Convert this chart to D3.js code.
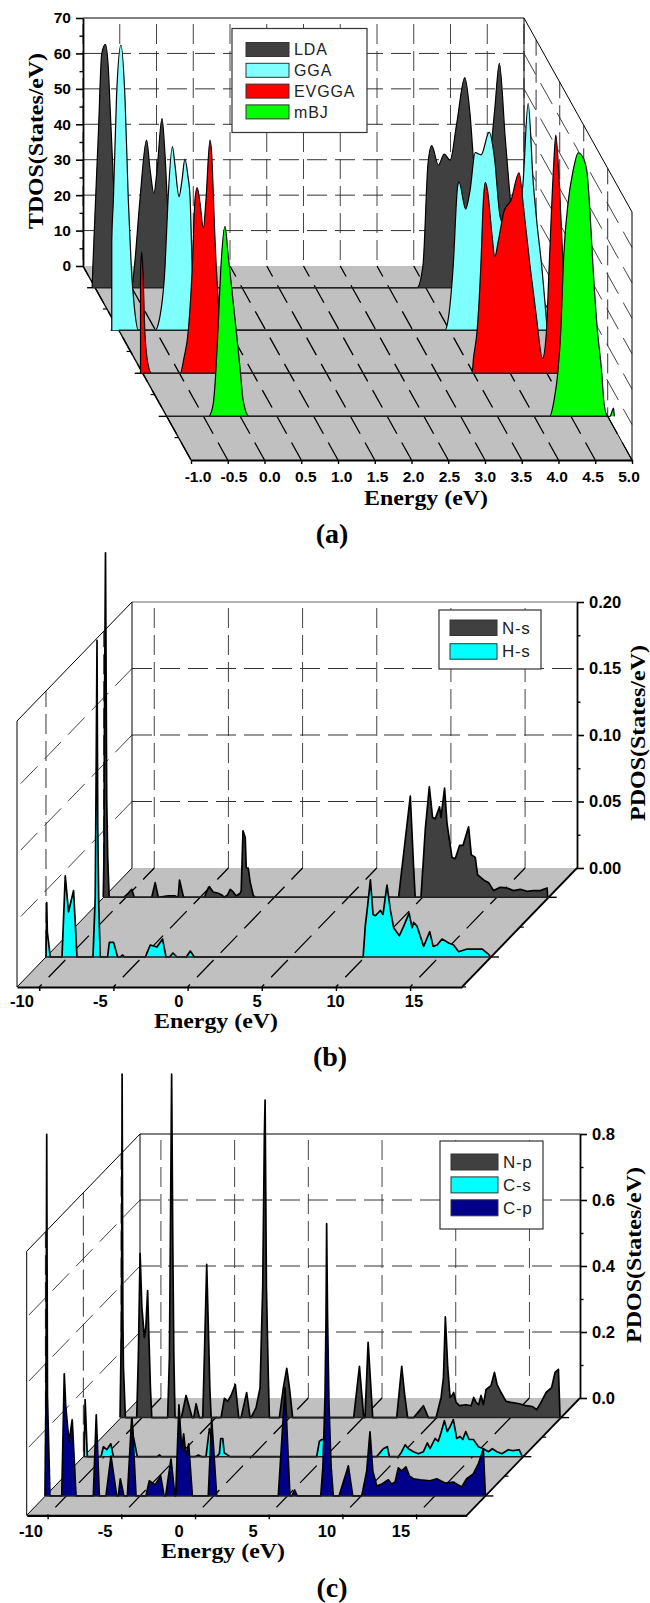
<!DOCTYPE html>
<html>
<head>
<meta charset="utf-8">
<script src="https://cdn.jsdelivr.net/npm/d3@7"></script>
<style>
  html, body { margin: 0; padding: 0; background: #fff; }
  svg { display: block; }
</style>
</head>
<body>
<svg id="fig" width="650" height="1603"></svg>
<script>
// panel (a) TDOS, energy in eV, values in States/eV
var ldaE = [-1.04,-1.03,-0.955,-0.91,-0.86,-0.82,-0.80,-0.75,-0.71,-0.67,-0.50,-0.465,-0.39,-0.30,-0.25,-0.20,-0.16,-0.09,-0.05,-0.01,0.03,0.075,3.38,3.46,3.53,3.58,3.67,3.75,3.83,3.92,4.03,4.10,4.16,4.27,4.40,4.44,4.50,4.58,4.66,4.73,4.81];
var ldaV = [0,6.1,43.7,66,68.7,62,53,29.5,11,0,0,6,24.8,41.7,33,26.6,32.5,47.8,38,21,5.6,0,0,6.1,35.2,40.1,34.6,37.7,36,46.3,59.3,49.3,34.2,28,42.3,51,63.3,42.3,22.6,10,0];
var ggaE = [-1.095,-1.095,-1.073,-1.03,-0.97,-0.914,-0.87,-0.83,-0.79,-0.733,-0.506,-0.45,-0.37,-0.33,-0.27,-0.235,-0.18,-0.14,-0.10,-0.06,-0.03,0,0.065,0.12,3.44,3.49,3.55,3.61,3.63,3.72,3.78,3.85,3.93,4.04,4.11,4.19,4.32,4.43,4.50,4.57,4.64,4.69,4.755,4.83];
var ggaV = [0,25,36.8,66,80.5,65,36.8,18,7,0,0,2.8,18,36.7,51.8,46.6,37.7,42.3,48.3,43.7,37.7,18,4.2,0,0,4.2,18,40.5,41.8,34.2,39.5,50.1,49.5,55.9,49,32,26.8,31,41.5,64,41.5,30.2,18,0];
var evggaE = [-1.03,-1.03,-1.015,-1,-0.97,-0.93,-0.88,-0.49,-0.44,-0.38,-0.325,-0.29,-0.26,-0.22,-0.175,-0.14,-0.085,-0.065,-0.02,0,0.05,0.13,3.48,3.50,3.55,3.60,3.635,3.66,3.69,3.75,3.79,3.84,3.92,4.01,4.12,4.18,4.27,4.35,4.44,4.49,4.53,4.59,4.62,4.67,4.72,4.77,4.84];
var evggaV = [0,28,34.3,30,11.3,2.8,0,0,4.2,12,30.2,48.8,52.4,48,40.9,48.8,65.8,62.9,39.5,30.2,14,0,0,4.2,12.1,30.2,48.8,53.9,51.7,39.5,32.9,37.6,46,48.8,56.6,47,30.2,17,4.2,11,30.2,58.3,67.2,52.5,30.2,14,0];
var mbjE = [-0.42,-0.366,-0.333,-0.30,-0.265,-0.207,-0.162,-0.094,-0.05,0,0.04,0.12,4.21,4.27,4.32,4.365,4.395,4.46,4.53,4.60,4.67,4.72,4.76,4.80,4.855,4.92,4.95,5.0,5.03,5.08,5.09];
var mbjV = [0,3.7,12.1,25.4,41.2,53.6,45.2,31.9,23.4,13,4.5,0,0,4.5,12.1,25.4,42.3,60.1,69.4,74.4,72.8,68.6,57.3,42.3,25.4,12.1,3.7,0,0,2.3,0];

// panel (b) PDOS
var nsE = [-11.53,-11.48,-11.45,-11.38,-11.33,-11.30,-11.23,-11.16,-11.13,-10.15,-9.85,-9.61,-9.44,-8.26,-8.03,-7.82,-7.15,-6.68,-6.54,-6.48,-6.39,-6.14,-6.07,-4.72,-4.45,-4.39,-4.12,-3.78,-3.51,-3.37,-3.17,-2.97,-2.77,-2.57,-2.30,-2.23,-2.11,-1.96,-1.89,-1.76,-1.62,-1.42,-1.28,8.38,9.17,9.39,9.50,9.89,10.18,10.45,10.67,10.85,11.14,11.24,11.48,11.64,11.98,12.20,12.49,12.72,13.10,13.28,13.55,13.70,14.11,14.45,14.78,15.23,15.69,16.13,16.58,17.04,17.48,17.93,18.39,18.43];
var nsV = [0,.030,.135,.259,.150,.075,.030,.008,0,0,.003,.006,0,0,.011,0,.001,.001,0,0,.013,.001,0,0,.007,.008,.004,.003,.0015,0,.0015,.006,.004,.001,.003,.005,.050,.045,.022,.022,.011,.0015,0,0,.076,.023,0,0,.051,.083,.060,.059,.068,.060,.082,.056,.030,.029,.039,.039,.053,.032,.030,.017,.013,.011,.005,.0075,.007,.005,.006,.0045,.005,.005,.007,0];
var hsE = [-11.5,-11.45,-11.41,-11.21,-10.42,-10.2,-9.98,-9.64,-9.41,-8.33,-8.18,-8.11,-8.06,-8.01,-7.94,-7.84,-7.35,-7.23,-6.94,-6.67,-6.49,-6.33,-6.2,-4.8,-4.47,-4.02,-3.64,-3.41,-3.17,-2.94,-2.67,-2.04,-1.77,-1.5,9.88,10.03,10.15,10.37,10.55,10.71,11.04,11.22,11.49,11.72,11.94,12.32,12.61,12.98,13.18,13.29,13.52,13.96,14.37,14.6,14.87,15.2,15.65,15.98,16.32,16.89,17.33,17.9,18.34,18.46];
var hsV = [0,.041,.019,0,0,.061,.034,.050,0,0,.045,.150,.238,.098,.038,0,0,.011,.011,0,0,.0015,0,0,.009,.0075,.0135,0,0,.003,0,0,.0045,0,0,.024,.035,.058,.032,.031,.035,.032,.054,.035,.022,.016,.023,.033,.022,.026,.023,.008,.019,.008,.009,.0135,.0105,.009,.004,.006,.006,.006,.002,0];

// panel (c) PDOS
var npE = [-11.49,-11.39,-11.35,-11.30,-11.26,-11.13,-10.36,-10.25,-10.13,-10.01,-9.84,-9.74,-9.62,-9.53,-9.43,-9.34,-8.26,-8.14,-8.08,-7.99,-7.91,-7.84,-7.76,-7.33,-7.01,-6.60,-6.49,-6.33,-6.11,-5.88,-5.77,-5.61,-5.50,-5.40,-5.31,-4.64,-4.41,-4.19,-3.96,-3.67,-3.44,-3.28,-2.90,-2.67,-2.60,-2.26,-1.99,-1.81,-1.70,-1.65,-1.56,-1.43,-1.36,-0.68,-0.41,-0.18,0,0.22,4.36,4.75,5.04,5.13,5.34,5.65,7.28,7.62,7.80,8.02,8.43,9.09,9.43,9.95,10.29,10.45,10.58,10.74,10.90,11.04,11.14,11.31,11.53,11.99,12.33,12.50,12.66,12.84,13,13.16,13.34,13.68,13.91,14.09,14.36,14.70,15.04,15.60,16.06,16.50,16.78,17.07,17.41,17.79,18.02,18.25,18.36];
var npV = [0,.303,1.041,.303,.152,0,0,.182,.498,.334,.243,.273,.385,.243,.091,0,0,.182,.516,1.041,.516,.182,0,0,.067,0,0,.042,0,0,.182,.464,.273,.091,0,0,.058,.049,.067,.100,0,0,.076,0,0,.030,.091,.395,.850,.962,.395,.121,0,0,.091,.149,.091,0,0,.155,0,0,.228,0,0,.155,.076,0,0,.036,0,0,.061,.121,.305,.152,.061,.067,.076,.046,.036,.039,.036,.061,.046,.039,.067,.039,.085,.097,.137,.100,.076,.049,.046,.042,.036,.033,.024,.046,.076,.091,.137,.146,0];
var csE = [-11.37,-11.30,-11.15,-10.22,-10.06,-9.83,-9.56,-9.38,-8.20,-8.12,-8.03,-7.76,-6.40,-6.26,-6.13,-3.84,-3.62,-3.39,-3.10,-2.87,-2.72,-2.65,-2.37,-2.19,-2.10,-1.96,-1.87,-1.47,4.41,4.59,4.75,5.04,5.25,8.48,8.93,9.20,9.34,9.95,10.18,10.41,10.63,10.97,11.31,11.65,11.92,12.10,12.44,12.66,12.85,13.07,13.27,13.46,13.68,13.91,14.14,14.32,14.52,14.75,15.04,15.38,15.72,16.06,16.33,16.63,16.97,17.41,17.75,18.14,18.36];
var csV = [0,.173,0,0,.030,.021,.039,0,0,.115,.061,0,0,.005,0,0,.005,0,0,.085,.061,0,0,.009,.055,.055,.012,0,0,.046,.052,.052,0,0,.024,.030,0,0,.015,.036,.024,.015,.009,.015,.042,.024,.055,.046,.073,.109,.076,.091,.112,.055,.061,.052,.076,.052,.052,.030,.024,.015,.024,.015,.009,.021,.018,.021,0];
var cpE = [-11.45,-11.38,-11.33,-11.28,-11.11,-10.31,-10.14,-10.04,-9.82,-9.60,-9.34,-8.17,-7.97,-7.76,-7.31,-6.97,-6.58,-6.47,-6.34,-6.09,-5.86,-5.57,-5.46,-5.27,-4.60,-4.37,-3.98,-3.60,-3.37,-3.26,-2.90,-2.63,-2.58,-2.36,-2.17,-2.04,-1.88,-1.70,-1.45,-0.37,-0.14,0.20,4.38,4.84,5.17,5.29,5.49,5.67,7.26,7.41,7.55,7.62,7.66,7.72,7.82,7.96,8.11,8.50,9.13,9.43,10.04,10.38,10.60,10.79,11.06,11.40,11.85,12.07,12.30,12.52,12.75,13.04,13.27,13.54,13.99,14.67,15.13,15.69,16.25,16.82,17.16,17.61,17.95,18.29,18.43];
var cpV = [0,.303,1.096,.303,0,0,.370,.273,.164,.231,0,0,.246,0,0,.121,0,0,.052,0,0,.234,.167,0,0,.046,.033,.061,0,0,.112,0,0,.276,.140,.188,.121,.158,0,0,.234,0,0,.328,0,0,.018,0,0,.091,.303,.546,.825,.546,.273,.091,0,0,.091,0,0,.076,.194,.076,.030,.036,.049,.036,.042,.085,.076,.088,.061,.052,.049,.046,.052,.039,.042,.027,.052,.067,.097,.143,0];

// tick values
var aXTicks = [-1,-0.5,0,0.5,1,1.5,2,2.5,3,3.5,4,4.5,5];
var aYTicks = [0,10,20,30,40,50,60,70];
var bXTicks = [-10,-5,0,5,10,15];
var bYTicks = [0,0.05,0.10,0.15,0.20];
var cYTicks = [0,0.2,0.4,0.6,0.8];

var sans = "'Liberation Sans', Arial, sans-serif";
var serif = "'Liberation Serif', 'Times New Roman', serif";
var svg = d3.select("#fig");

// the figure uses a plain hyphen for negative tick labels
function hyphen(spec) {
  var f = d3.format(spec);
  return function(t) { return f(t).replace("\u2212", "-"); };
}

function drawPanel(p) {
  var g = svg.append("g");
  var x = d3.scaleLinear().domain(p.xDomain).range(p.xRange);
  var y = d3.scaleLinear().domain(p.yDomain).range(p.yRange);
  var x0 = p.xRange[0], x1 = p.xRange[1], yBot = p.yRange[0], yTop = p.yRange[1];
  var pt = function(px, py, d) { return [px + p.dx * d, py + p.dy * d]; };
  var wallX = p.wall == "right" ? x1 : x0;   // which side the open side wall sits on
  var axisX = p.wall == "right" ? x0 : x1;
  var sideSign = p.wall == "right" ? -1 : 1; // depth ticks point away from the plot

  // floor
  g.append("polygon")
    .attr("points", [[x0, yBot], [x1, yBot], pt(x1, yBot, 1), pt(x0, yBot, 1)].join(" "))
    .attr("fill", "#c0c0c0");

  var line = function(a, b, w, col, dash, off) {
    return g.append("line")
      .attr("x1", a[0]).attr("y1", a[1]).attr("x2", b[0]).attr("y2", b[1])
      .attr("stroke", col || "#000").attr("stroke-width", w || 1)
      .attr("stroke-dasharray", dash || null).attr("stroke-dashoffset", off || 0);
  };

  // grid on back wall, floor and side wall
  p.xTicks.forEach(function(t) {
    line([x(t), yTop], [x(t), yBot], 1, "#444", "20 7", 21);
    line([x(t), yBot], pt(x(t), yBot, 1), 1.3, "#000", p.floorDash, 8);
  });
  p.yGrid.forEach(function(t) {
    line([x0, y(t)], [x1, y(t)], 1, "#333", "20 8", 0);
    line([wallX, y(t)], pt(wallX, y(t), 1), 1, "#444", "24 10", 0);
  });
  p.rows.forEach(function(d) {
    line(pt(wallX, yTop, d), pt(wallX, yBot, d), 1, "#333", "20 7", 4);
  });

  // wall outlines
  line([x0, yTop], [x1, yTop], 1.2, p.topColor);
  line([wallX, yTop], [wallX, yBot], 1);
  line([wallX, yTop], pt(wallX, yTop, 1), 1);
  line(pt(wallX, yTop, 1), pt(wallX, yBot, 1), 1);
  line([x0, yBot], pt(x0, yBot, 1), p.wall == "right" ? 1.4 : 1);
  line([x1, yBot], pt(x1, yBot, 1), p.wall == "right" ? 1 : 1.8);

  // depth ticks along the floor edge
  var edge = p.wall == "right" ? x0 : x1;
  var step = p.rows[1] - p.rows[0];
  p.rows.forEach(function(d) {
    var a = pt(edge, yBot, d);
    line(a, [a[0] + sideSign * 8, a[1]], 1.4);
    var b = pt(edge, yBot, d + step / 2);
    if (d + step / 2 < 1) line(b, [b[0] + sideSign * 4, b[1]], 1.2);
  });

  // series, back row first
  p.series.forEach(function(s, i) {
    var d = p.rows[i];
    var pts = d3.zip(s.e, s.v);
    var area = d3.area()
      .curve(p.curve)
      .x(function(q) { return x(q[0]) + p.dx * d; })
      .y0(y(0) + p.dy * d)
      .y1(function(q) { return y(q[1]) + p.dy * d; });
    var prof = d3.line()
      .curve(p.curve)
      .x(function(q) { return x(q[0]) + p.dx * d; })
      .y(function(q) { return y(q[1]) + p.dy * d; });
    g.append("path").attr("d", area(pts)).attr("fill", s.fill).attr("stroke", "none");
    g.append("path").attr("d", prof(pts)).attr("fill", "none")
      .attr("stroke", "#000").attr("stroke-width", p.edgeWidth).attr("stroke-linejoin", "round");
    line(pt(x0, yBot, d), pt(x1, yBot, d), 1.5, "#222");
  });

  // front axis
  var front = g.append("g").attr("transform", "translate(" + p.dx + "," + (yBot + p.dy) + ")");
  front.call(d3.axisBottom(x).tickValues(p.xTicks).tickSize(4).tickSizeOuter(0).tickFormat(""));
  front.select(".domain").attr("stroke-width", 2.2);
  front.selectAll(".tick line").attr("stroke-width", 1.4);
  var lab = d3.scaleLinear().domain(p.labelDomain).range(p.labelRange);
  g.selectAll("text.xlab").data(p.xTicks).enter().append("text")
    .attr("x", function(t) { return lab(t); })
    .attr("y", p.xLabelY)
    .attr("text-anchor", "middle")
    .attr("font-family", sans).attr("font-weight", "bold").attr("font-size", p.tickFont)
    .text(p.xFormat);

  // value axis
  var yAxis = (p.wall == "right" ? d3.axisLeft(y) : d3.axisRight(y))
    .tickValues(p.yTicks).tickSize(7).tickSizeOuter(0).tickPadding(5).tickFormat(p.yFormat);
  var ya = g.append("g").attr("transform", "translate(" + axisX + ",0)").call(yAxis);
  ya.select(".domain").attr("stroke-width", 1.8);
  ya.selectAll(".tick line").attr("stroke-width", 1.6);
  ya.selectAll("text")
    .attr("font-family", sans).attr("font-weight", "bold").attr("font-size", p.tickFont).attr("fill", "#000");
  var minor = (p.wall == "right" ? d3.axisLeft(y) : d3.axisRight(y))
    .tickValues(d3.pairs(p.yTicks).map(function(q) { return (q[0] + q[1]) / 2; }))
    .tickSize(3.5).tickSizeOuter(0).tickFormat("");
  var ym = g.append("g").attr("transform", "translate(" + axisX + ",0)").call(minor);
  ym.select(".domain").remove();
  ym.selectAll(".tick line").attr("stroke-width", 1.4);

  // titles
  g.append("text")
    .attr("transform", "translate(" + p.yTitleX + "," + p.yTitleY + ") rotate(-90)")
    .attr("text-anchor", "middle")
    .attr("font-family", serif).attr("font-weight", "bold").attr("font-size", 22)
    .attr("textLength", 176).attr("lengthAdjust", "spacingAndGlyphs")
    .text(p.yTitle);
  g.append("text")
    .attr("x", p.xTitleX).attr("y", p.xTitleY)
    .attr("text-anchor", "middle")
    .attr("font-family", serif).attr("font-weight", "bold").attr("font-size", 21)
    .attr("textLength", 124).attr("lengthAdjust", "spacingAndGlyphs")
    .text("Energy (eV)");
  g.append("text")
    .attr("x", p.capX).attr("y", p.capY)
    .attr("text-anchor", "middle")
    .attr("font-family", serif).attr("font-weight", "bold").attr("font-size", 28)
    .text(p.caption);

  // legend
  var L = p.legend;
  g.append("rect").attr("x", L.x).attr("y", L.y).attr("width", L.w).attr("height", L.h)
    .attr("fill", "#fff").attr("stroke", "#333").attr("stroke-width", 1.2);
  var item = g.selectAll("g.leg").data(p.series).enter().append("g");
  item.append("rect")
    .attr("x", L.x + L.pad).attr("y", function(s, i) { return L.y + L.top + i * L.step; })
    .attr("width", L.swatch).attr("height", L.sh)
    .attr("fill", function(s) { return s.fill; })
    .attr("stroke", "#333").attr("stroke-width", 1);
  item.append("text")
    .attr("x", L.x + L.pad + L.swatch + 5)
    .attr("y", function(s, i) { return L.y + L.top + i * L.step + L.sh / 2 + L.font * 0.35; })
    .attr("font-family", sans).attr("font-size", L.font).attr("letter-spacing", L.ls).attr("fill", "#222")
    .text(function(s) { return s.name; });
}

drawPanel({
  xDomain: [-1, 5], xRange: [83, 524], yDomain: [0, 70], yRange: [266, 18],
  dx: 108, dy: 194, wall: "right", rows: [0.112, 0.331, 0.553, 0.775],
  xTicks: aXTicks, yTicks: aYTicks, yGrid: [10, 20, 30, 40, 50, 60],
  xFormat: hyphen(".1f"), yFormat: d3.format("d"), floorDash: "20 10", topColor: "#000",
  curve: d3.curveMonotoneX, edgeWidth: 1.2,
  labelDomain: [-1, 5], labelRange: [198, 629], xLabelY: 482, tickFont: 15.5,
  yTitle: "TDOS(States/eV)", yTitleX: 43, yTitleY: 141,
  xTitleX: 426, xTitleY: 505, capX: 332, capY: 543, caption: "(a)",
  legend: { x: 232, y: 28.5, w: 135, h: 104, pad: 14, top: 14, step: 20.8, swatch: 43, sh: 14, font: 16, ls: 0.9 },
  series: [
    { name: "LDA", e: ldaE, v: ldaV, fill: "#404040" },
    { name: "GGA", e: ggaE, v: ggaV, fill: "#80ffff" },
    { name: "EVGGA", e: evggaE, v: evggaV, fill: "#ff0000" },
    { name: "mBJ", e: mbjE, v: mbjV, fill: "#00ff00" }
  ]
});

drawPanel({
  xDomain: [-11.5, 18.5], xRange: [132, 577], yDomain: [0, 0.2], yRange: [868, 602],
  dx: -115, dy: 119, wall: "left", rows: [0.246, 0.748],
  xTicks: bXTicks, yTicks: bYTicks, yGrid: [0.05, 0.10, 0.15],
  xFormat: hyphen("d"), yFormat: d3.format(".2f"), floorDash: "24 10", topColor: "#666",
  curve: d3.curveLinear, edgeWidth: 1.7,
  labelDomain: [-10, 15], labelRange: [22, 414], xLabelY: 1007, tickFont: 16.5,
  yTitle: "PDOS(States/eV)", yTitleX: 645, yTitleY: 733,
  xTitleX: 216, xTitleY: 1027.5, capX: 330, capY: 1066, caption: "(b)",
  legend: { x: 439, y: 610, w: 102, h: 59, pad: 11, top: 10, step: 23.7, swatch: 47, sh: 15.5, font: 17, ls: 0.6 },
  series: [
    { name: "N-s", e: nsE, v: nsV, fill: "#404040" },
    { name: "H-s", e: hsE, v: hsV, fill: "#00ffff" }
  ]
});

drawPanel({
  xDomain: [-11.42, 18.43], xRange: [140, 580], yDomain: [0, 0.8], yRange: [1398, 1134],
  dx: -113.3, dy: 117.3, wall: "left", rows: [0.167, 0.5, 0.835],
  xTicks: bXTicks, yTicks: cYTicks, yGrid: [0.2, 0.4, 0.6],
  xFormat: hyphen("d"), yFormat: d3.format(".1f"), floorDash: "24 10", topColor: "#000",
  curve: d3.curveLinear, edgeWidth: 1.7,
  labelDomain: [-10, 15], labelRange: [31, 401], xLabelY: 1537, tickFont: 16.5,
  yTitle: "PDOS(States/eV)", yTitleX: 641, yTitleY: 1255,
  xTitleX: 223, xTitleY: 1558, capX: 332, capY: 1597, caption: "(c)",
  legend: { x: 440, y: 1141, w: 103, h: 88, pad: 11, top: 13, step: 22.9, swatch: 47, sh: 16, font: 17, ls: 0.6 },
  series: [
    { name: "N-p", e: npE, v: npV, fill: "#404040" },
    { name: "C-s", e: csE, v: csV, fill: "#00ffff" },
    { name: "C-p", e: cpE, v: cpV, fill: "#00008b" }
  ]
});
</script>
</body>
</html>
